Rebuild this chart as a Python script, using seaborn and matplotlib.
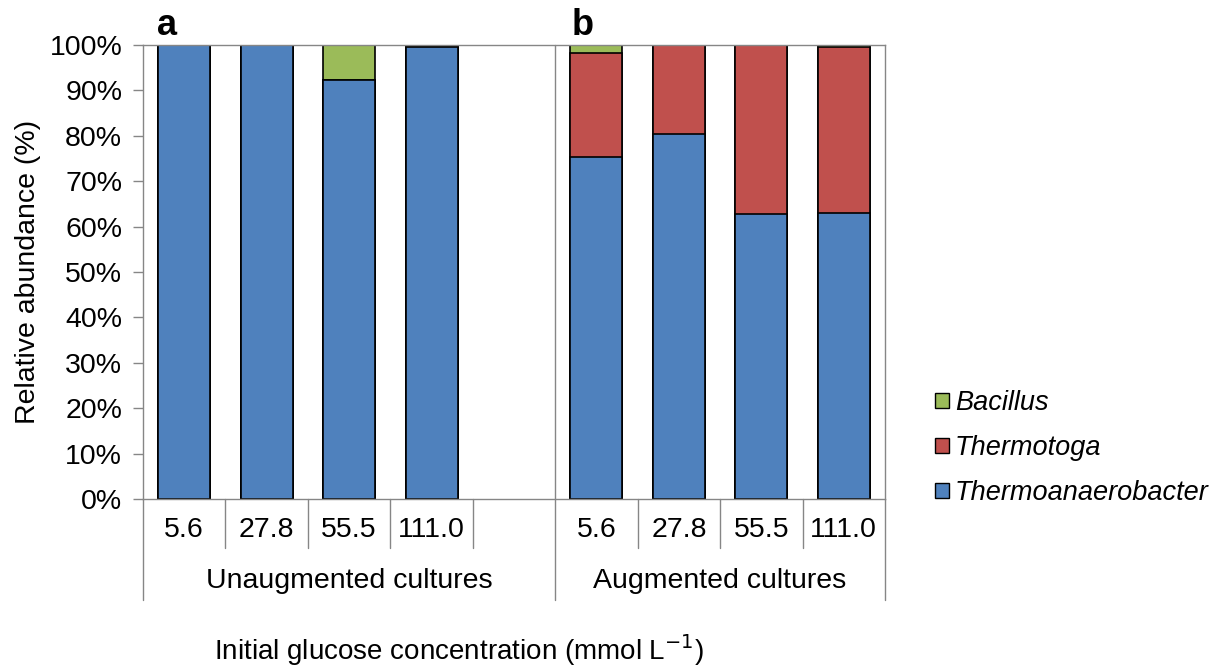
import numpy as np
import pandas as pd
import matplotlib
matplotlib.use("Agg")
import matplotlib.pyplot as plt
import seaborn as sns
from matplotlib.patches import Patch

# Data (relative abundance, %)
slots = ["U1", "U2", "U3", "U4", "gap", "A1", "A2", "A3", "A4"]
tick_labels = ["5.6", "27.8", "55.5", "111.0", "", "5.6", "27.8", "55.5", "111.0"]
bar_slots = ["U1", "U2", "U3", "U4", "A1", "A2", "A3", "A4"]
thermoanaerobacter = [100.0, 100.0, 92.3, 99.6, 75.3, 80.4, 62.8, 63.0]
thermotoga = [0.0, 0.0, 0.0, 0.0, 22.9, 19.6, 37.2, 36.6]
bacillus = [0.0, 0.0, 7.7, 0.4, 1.8, 0.0, 0.0, 0.4]
groups = ["Unaugmented cultures", "Augmented cultures"]

df = pd.DataFrame({"slot": bar_slots,
                   "Thermoanaerobacter": thermoanaerobacter,
                   "Thermotoga": thermotoga,
                   "Bacillus": bacillus})
df["cum1"] = df["Thermoanaerobacter"]
df["cum2"] = df["cum1"] + df["Thermotoga"]
df["cum3"] = df["cum2"] + df["Bacillus"]

sns.set_style("white")
plt.rcParams["font.family"] = ["Liberation Sans", "DejaVu Sans"]
plt.rcParams["text.color"] = "black"
plt.rcParams["axes.labelcolor"] = "black"
plt.rcParams["xtick.color"] = "black"
plt.rcParams["ytick.color"] = "black"

blue = "#4F81BD"
red = "#C0504D"
green = "#9BBB59"
grey = "#868686"
fs = 20.5

fig = plt.figure(figsize=(12.28, 6.66), dpi=100)
ax = fig.add_axes([143 / 1228, 1 - 499 / 666, (885 - 143) / 1228, (499 - 45) / 666])

# stacked bars: draw the totals first, lower layers on top
for col, c in [("cum3", green), ("cum2", red), ("cum1", blue)]:
    sns.barplot(data=df, x="slot", y=col, order=slots, color=c, saturation=1,
                width=0.63, edgecolor="black", linewidth=1.2, ax=ax)

ax.set_xlim(-0.5, 8.5)
ax.set_ylim(0, 100)
ax.set_yticks(np.arange(0, 101, 10))
ax.set_yticklabels([f"{v}%" for v in range(0, 101, 10)], fontsize=fs)
ax.set_xticks(range(9))
ax.set_xticklabels(tick_labels, fontsize=fs)
ax.tick_params(axis="x", length=0, pad=13)
ax.tick_params(axis="y", length=7, width=1, color=grey, labelcolor="black",
               direction="out", left=True, pad=8)
ax.set_xlabel("")
ax.set_ylabel("Relative abundance (%)", fontsize=fs, labelpad=6)

for s in ax.spines.values():
    s.set_visible(True)
    s.set_color(grey)
    s.set_linewidth(1)

trans = ax.get_xaxis_transform()
# short separators between concentrations
for x in [0.5, 1.5, 2.5, 3.5, 5.5, 6.5, 7.5]:
    ax.plot([x, x], [0, -0.108], transform=trans, color=grey, lw=1, clip_on=False)
# long group dividers
for x in [-0.5, 8.5]:
    ax.plot([x, x], [0, -0.222], transform=trans, color=grey, lw=1, clip_on=False)
ax.plot([4.5, 4.5], [1, -0.222], transform=trans, color=grey, lw=1, clip_on=False)

ax.text(2.0, -0.18, groups[0], transform=trans, ha="center", va="center", fontsize=fs)
ax.text(6.5, -0.18, groups[1], transform=trans, ha="center", va="center", fontsize=fs)

ax.text(-0.21, 1.044, "a", transform=trans, ha="center", va="center",
        fontsize=26, fontweight="bold")
ax.text(4.83, 1.044, "b", transform=trans, ha="center", va="center",
        fontsize=26, fontweight="bold")

fig.text(459 / 1228, 1 - 650 / 666, "Initial glucose concentration (mmol L$^{-1}$)",
         ha="center", va="center", fontsize=20)

handles = [Patch(facecolor=green, edgecolor="black", label="Bacillus"),
           Patch(facecolor=red, edgecolor="black", label="Thermotoga"),
           Patch(facecolor=blue, edgecolor="black", label="Thermoanaerobacter")]
fig.legend(handles=handles, loc="center left", bbox_to_anchor=(935 / 1228, 1 - 448 / 666),
           frameon=False, prop={"style": "italic", "size": 19.5},
           borderpad=0, borderaxespad=0,
           handlelength=0.5, handleheight=0.5, handletextpad=0.24, labelspacing=0.7)

fig.savefig("out.png", dpi=100)
